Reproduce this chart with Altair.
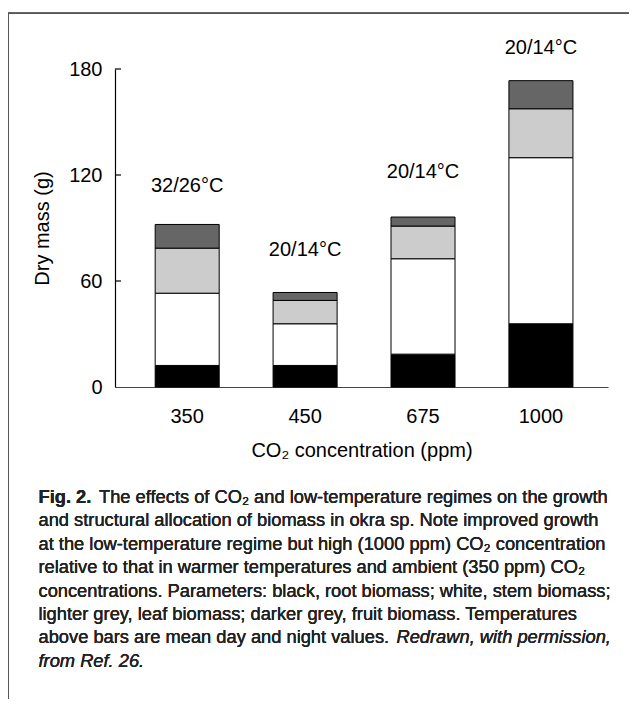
import altair as alt
import pandas as pd

# ---- data ----
co2 = ["350", "450", "675", "1000"]
root = [12.2, 12.2, 18.6, 35.8]
stem = [40.9, 23.6, 54.0, 94.0]
leaf = [25.5, 13.2, 18.5, 27.7]
fruit = [13.4, 4.5, 5.1, 15.9]
temps = ["32/26°C", "20/14°C", "20/14°C", "20/14°C"]
temp_label_y = [113.7, 77.3, 121.6, 192.1]
y_ticks = [0, 60, 120, 180]

parts = ["root", "stem", "leaf", "fruit"]
part_colors = ["#000000", "#ffffff", "#cccccc", "#666666"]

rows = []
for i, c in enumerate(co2):
    for k, (p, vals) in enumerate(zip(parts, [root, stem, leaf, fruit])):
        rows.append({"co2": c, "part": p, "order": k, "mass": vals[i]})
bars_df = pd.DataFrame(rows)
labels_df = pd.DataFrame({"co2": co2, "temp": temps, "ly": temp_label_y})
ticks_df = pd.DataFrame({"t": y_ticks[1:]})

W, H = 493, 318
PAD_L, PAD_T = 107, 61

FONT = "Liberation Sans, Arial, sans-serif"
CAP_FONT = "Liberation Sans, Arial, sans-serif"

xscale = alt.Scale(domain=co2, paddingInner=0.457, paddingOuter=0.319, align=0.534)
yscale = alt.Scale(domain=[0, 180], nice=False, zero=True)

bars = alt.Chart(bars_df).mark_bar(stroke="#000000", strokeWidth=1).encode(
    x=alt.X("co2:N", sort=co2, scale=xscale,
            axis=alt.Axis(title="CO₂ concentration (ppm)", labelAngle=0, tickSize=0,
                          labelPadding=19, titlePadding=14, labelFontSize=20,
                          titleFontSize=20, titleFontWeight="normal",
                          domainColor="#444444", domainWidth=1.2,
                          labelColor="#000000", titleColor="#000000",
                          labelFont=FONT, titleFont=FONT)),
    y=alt.Y("mass:Q", stack="zero", scale=yscale,
            axis=alt.Axis(title="Dry mass (g)", values=y_ticks, tickSize=0, grid=False,
                          labelPadding=13, titlePadding=16, labelFontSize=20,
                          titleFontSize=20, titleFontWeight="normal",
                          domainColor="#000000", domainWidth=1.2,
                          labelColor="#000000", titleColor="#000000",
                          labelFont=FONT, titleFont=FONT)),
    fill=alt.Fill("part:N", scale=alt.Scale(domain=parts, range=part_colors), legend=None),
    order=alt.Order("order:Q", sort="ascending"),
)

temp_text = alt.Chart(labels_df).mark_text(
    fontSize=20, font=FONT, color="#000000", baseline="middle", align="center"
).encode(
    x=alt.X("co2:N", sort=co2, scale=xscale),
    y=alt.Y("ly:Q", scale=yscale),
    text="temp:N",
)

inner_ticks = alt.Chart(ticks_df).mark_rule(color="#000000", strokeWidth=1.2).encode(
    y=alt.Y("t:Q", scale=yscale),
    x=alt.value(0),
    x2=alt.value(6),
)

# frame around the figure (decoration)
frame_left = alt.Chart(ticks_df).mark_rule(color="#555555", strokeWidth=1.5).encode(
    x=alt.value(-PAD_L), y=alt.value(13.3 - 8 - PAD_T), y2=alt.value(H + 330)
)
frame_top = alt.Chart(ticks_df).mark_rule(color="#555555", strokeWidth=1.5).encode(
    x=alt.value(-PAD_L), x2=alt.value(W + 30), y=alt.value(13.3 - 8 - PAD_T)
)

# caption
cap_x0 = 38.5 - 8 - PAD_L
cap_base0 = 503 - 8 - PAD_T
cap_lh = 23.4
caption_segments = [
    ("Fig. 2.", 0, 0, "bold", "normal"),
    ("The effects of CO₂ and low-temperature regimes on the growth", 0, 60.5, "normal", "normal"),
    ("and structural allocation of biomass in okra sp. Note improved growth", 1, 0, "normal", "normal"),
    ("at the low-temperature regime but high (1000 ppm) CO₂ concentration", 2, 0, "normal", "normal"),
    ("relative to that in warmer temperatures and ambient (350 ppm) CO₂", 3, 0, "normal", "normal"),
    ("concentrations. Parameters: black, root biomass; white, stem biomass;", 4, 0, "normal", "normal"),
    ("lighter grey, leaf biomass; darker grey, fruit biomass. Temperatures", 5, 0, "normal", "normal"),
    ("above bars are mean day and night values.", 6, 0, "normal", "normal"),
    ("Redrawn, with permission,", 6, 358, "normal", "italic"),
    ("from Ref. 26.", 7, 0, "normal", "italic"),
]
cap_layers = []
for txt, line, dx, wt, st in caption_segments:
    cap_layers.append(
        alt.Chart(ticks_df).mark_text(
            fontSize=18.3, font=CAP_FONT, fontWeight=wt, fontStyle=st, color="#222222",
            align="left", baseline="alphabetic"
        ).encode(
            x=alt.value(cap_x0 + dx),
            y=alt.value(cap_base0 + line * cap_lh),
            text=alt.value(txt),
        )
    )

chart = alt.layer(bars, temp_text, inner_ticks, frame_left, frame_top, *cap_layers).properties(
    width=W, height=H,
    autosize=alt.AutoSizeParams(type="none"),
    padding={"left": PAD_L, "top": PAD_T, "right": 21, "bottom": 312},
).configure_view(stroke=None)

chart.save("out.html", embed_options={"renderer": "svg", "actions": False})
